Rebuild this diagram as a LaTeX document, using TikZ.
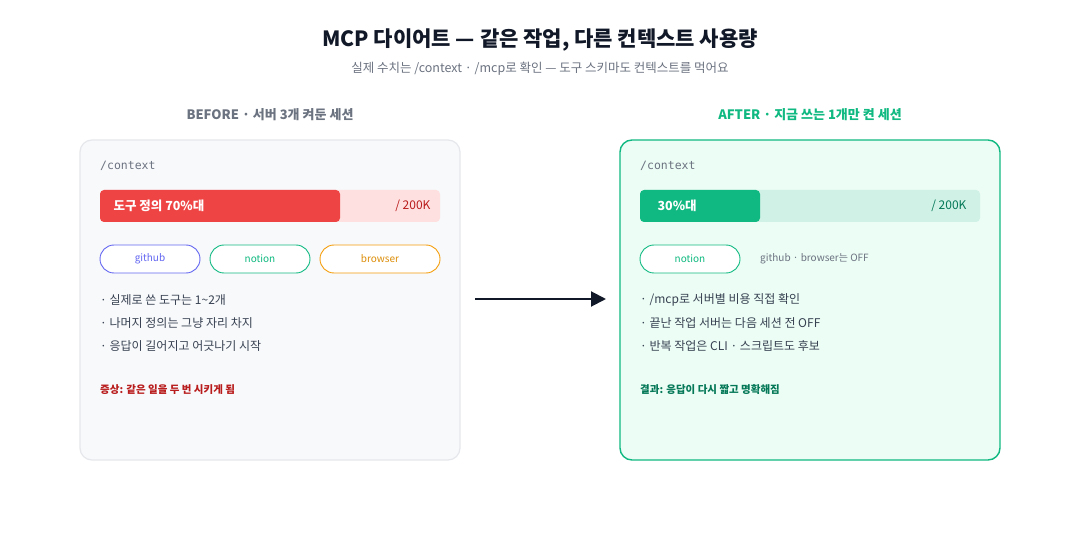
\documentclass[tikz,border=0pt]{standalone}
\usepackage{fontspec}
\setmainfont{Noto Sans CJK KR}
\newfontfamily\monof{DejaVu Sans Mono}
\usetikzlibrary{arrows.meta}
\definecolor{ink}{HTML}{111827}
\definecolor{gry}{HTML}{6B7280}
\definecolor{txt}{HTML}{374151}
\definecolor{grn}{HTML}{10B981}
\definecolor{dgrn}{HTML}{047857}
\definecolor{red1}{HTML}{EF4444}
\definecolor{dred}{HTML}{B91C1C}
\definecolor{ind}{HTML}{6366F1}
\definecolor{amb}{HTML}{F59E0B}
\definecolor{lbg}{HTML}{F8F9FB}
\definecolor{rbg}{HTML}{ECFDF5}
\definecolor{lbd}{HTML}{E5E7EB}
\tikzset{
 lbl/.style={anchor=west,inner sep=0,font=\fontsize{12}{14}\selectfont,text=txt},
 pill/.style={draw,rounded corners=14pt,line width=0.9pt,fill=white,minimum height=28pt,inner sep=0,font=\fontsize{10}{12}\selectfont},
 mono/.style={anchor=west,inner sep=0,font=\monof\fontsize{11.5}{13}\selectfont,text=gry}
}
\begin{document}
\begin{tikzpicture}[x=1pt,y=-1pt]
\useasboundingbox[fill=white] (0,0) rectangle (1080,540);
\node[font=\bfseries\fontsize{21}{24}\selectfont,text=ink] (title) at (540,40) {MCP 다이어트 — 같은 작업, 다른 컨텍스트 사용량};
\node[font=\fontsize{12.5}{14}\selectfont,text=gry] (sub) at (540,69) {실제 수치는 /context · /mcp로 확인 — 도구 스키마도 컨텍스트를 먹어요};
\node[font=\bfseries\fontsize{13}{15}\selectfont,text=gry] (hl) at (270,115) {BEFORE · 서버 3개 켜둔 세션};
\node[font=\bfseries\fontsize{13}{15}\selectfont,text=grn] (hr) at (810,115) {AFTER · 지금 쓰는 1개만 켠 세션};
% left box
\draw[rounded corners=12pt,fill=lbg,draw=lbd,line width=1.2pt] (80,140) rectangle (460,460);
\node[mono] (cl) at (100,166) {/context};
\fill[red!12,rounded corners=4pt] (100,190) rectangle (440,222);
\fill[red1,rounded corners=4pt] (100,190) rectangle (340,222);
\node[anchor=west,text=white,font=\bfseries\fontsize{12.5}{14}\selectfont] (bl) at (110,206) {도구 정의 70\%대};
\node[anchor=east,text=dred,font=\fontsize{12}{14}\selectfont] (kl) at (434,206) {/ 200K};
\node[pill,draw=ind,text=ind,minimum width=100pt] (p1) at (150,259) {github};
\node[pill,draw=grn,text=grn,minimum width=100pt] (p2) at (260,259) {notion};
\node[pill,draw=amb,text=amb!90!black,minimum width=120pt] (p3) at (380,259) {browser};
\node[lbl] (l1) at (100,300) {· 실제로 쓴 도구는 1\textasciitilde2개};
\node[lbl] (l2) at (100,323) {· 나머지 정의는 그냥 자리 차지};
\node[lbl] (l3) at (100,346) {· 응답이 길어지고 어긋나기 시작};
\node[lbl,text=dred,font=\bfseries\fontsize{10.5}{12}\selectfont] (l4) at (100,390) {증상: 같은 일을 두 번 시키게 됨};
% right box
\draw[rounded corners=12pt,fill=rbg,draw=grn,line width=1.4pt] (620,140) rectangle (1000,460);
\node[mono] (cr) at (640,166) {/context};
\fill[grn!20,rounded corners=4pt] (640,190) rectangle (980,222);
\fill[grn,rounded corners=4pt] (640,190) rectangle (760,222);
\node[anchor=west,text=white,font=\bfseries\fontsize{12.5}{14}\selectfont] (br) at (654,206) {30\%대};
\node[anchor=east,text=dgrn,font=\fontsize{12}{14}\selectfont] (kr) at (970,206) {/ 200K};
\node[pill,draw=grn,text=grn,minimum width=100pt] (q1) at (690,259) {notion};
\node[anchor=west,inner sep=0,text=gry,font=\fontsize{10}{12}\selectfont] (off) at (760,259) {github · browser는 OFF};
\node[lbl] (r1) at (640,300) {· /mcp로 서버별 비용 직접 확인};
\node[lbl] (r2) at (640,323) {· 끝난 작업 서버는 다음 세션 전 OFF};
\node[lbl] (r3) at (640,346) {· 반복 작업은 CLI · 스크립트도 후보};
\node[lbl,text=dgrn,font=\bfseries\fontsize{10.5}{12}\selectfont] (r4) at (640,390) {결과: 응답이 다시 짧고 명확해짐};
\coordinate (a1) at (475,299);
\coordinate (a2) at (606,299);
\draw[ink,line width=2pt,-{Triangle[length=15pt,width=15pt]}] (a1) -- (a2);
\end{tikzpicture}
\end{document}
